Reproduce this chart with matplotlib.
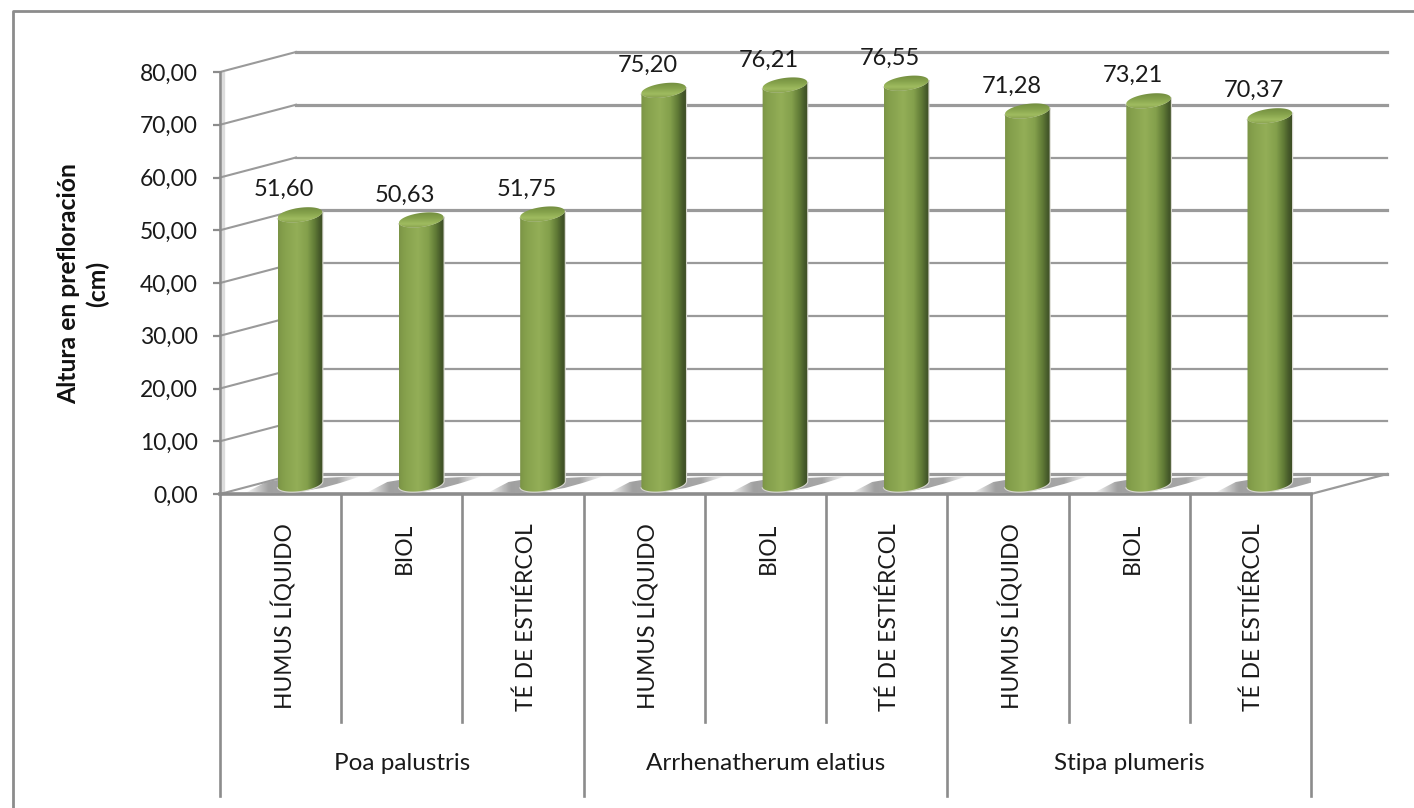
import numpy as np
import matplotlib
matplotlib.use("Agg")
import matplotlib.pyplot as plt
from matplotlib.colors import LinearSegmentedColormap
from matplotlib.patches import PathPatch
from matplotlib.path import Path

# Plant height per species and treatment

species = ["Poa palustris", "Arrhenatherum elatius", "Stipa plumeris"]
treatments = ["HUMUS LÍQUIDO", "BIOL", "TÉ DE ESTIÉRCOL"]
heights = [51.60, 50.63, 51.75, 75.20, 76.21, 76.55, 71.28, 73.21, 70.37]
y_ticks = [0, 10, 20, 30, 40, 50, 60, 70, 80]

W, H = 1414, 808
LEFT, RIGHT, BASE, TOP = 220, 1311, 494, 72

plt.rcParams["font.family"] = ["Lato", "DejaVu Sans"]
fig = plt.figure(figsize=(W / 100, H / 100), dpi=100)
ax = fig.add_axes([LEFT / W, 1 - BASE / H, (RIGHT - LEFT) / W, (BASE - TOP) / H])
ax.set_xlim(0, 9)
ax.set_ylim(0, 80)

# px per data unit, used for the fake 3D offsets
sx = (RIGHT - LEFT) / 9
sy = (BASE - TOP) / 80
depth_x = 76 / sx
depth_y = 20 / sy
grid_col = "#9a9a9a"
line_col = "#8c8c8c"


def to_data(cx, val, px, py):
    # px/py are screen offsets from the point (cx, val), py upwards
    return cx + np.asarray(px) / sx, val + np.asarray(py) / sy


# Outer frame, open towards the right and the bottom
fig.add_artist(plt.Line2D([12.5 / W, 12.5 / W, 1], [0, 1 - 11 / H, 1 - 11 / H],
                          color=line_col, lw=2))

# Walls and floor
for v in y_ticks:
    lw = 2.3 if v in (0, 50, 70, 80) else 1.6
    ax.plot([0, depth_x], [v, v + depth_y], color=grid_col, lw=1.5, clip_on=False, zorder=1)
    ax.plot([depth_x, 9 + depth_x], [v + depth_y, v + depth_y], color=grid_col,
            lw=lw, clip_on=False, zorder=1)
ax.plot([9, 9 + depth_x], [0, depth_y], color=grid_col, lw=1.6, clip_on=False, zorder=1)
ax.plot([3 / sx, 3 / sx], [0, 80], color="#dcdcdc", lw=2.4, zorder=0.5)

# Axis lines below the floor, splitting categories and groups
for i in range(10):
    low = -302 / sy if i % 3 == 0 else -228 / sy
    ax.plot([i, i], [0, low], color=line_col, lw=1.9, clip_on=False, zorder=2)
ax.plot([0, 9], [0, 0], color=line_col, lw=2.6, clip_on=False, zorder=2)

# Floor shadow of each cylinder
shadow_cmap = LinearSegmentedColormap.from_list(
    "shadow", [(0, (0.63, 0.63, 0.63, 0)), (0.2, (0.63, 0.63, 0.63, 1)),
               (0.8, (0.65, 0.65, 0.65, 1)), (1, (0.7, 0.7, 0.7, 0))])
body_cmap = LinearSegmentedColormap.from_list(
    "body", [(0, "#7b9446"), (0.12, "#85a04c"), (0.42, "#93ae57"), (0.65, "#84a04c"),
             (0.82, "#607a36"), (0.93, "#465a2a"), (1, "#3e4e25")])
top_cmap = LinearSegmentedColormap.from_list(
    "top", [(0, "#7b9445"), (0.3, "#a0bc60"), (0.6, "#86a34c"), (1, "#6c863c")])
R = 22.5
RY = 7
TILT = np.radians(8)
BAR_SHIFT = 19.4
FLOOR = 7
FOOT = 10

for i, val in enumerate(heights):
    cx = i + 0.5 + BAR_SHIFT / sx
    base = FOOT / sy

    # shadow
    sh_x, sh_y = to_data(cx, 0, [-56, -34, -22, 22, 62, 40, 22, -10],
                         [0.5, 12, 14, 16, 18, 11, 6, 1])
    shadow = Path(np.column_stack([sh_x, sh_y]))
    im = ax.imshow(np.linspace(0, 1, 64)[None, :], cmap=shadow_cmap, aspect="auto",
                   extent=[cx - 56 / sx, cx + 62 / sx, -2 / sy, 20 / sy], zorder=3,
                   interpolation="bilinear")
    im.set_clip_path(PathPatch(shadow, transform=ax.transData))

    # cylinder side, from the base arc up to the top arc
    t = np.linspace(np.pi, 2 * np.pi, 40)
    ex = R * np.cos(t)
    ey = RY * np.sin(t)
    low_x = ex * np.cos(TILT) - ey * np.sin(TILT)
    low_y = ex * np.sin(TILT) + ey * np.cos(TILT)
    bx, by = to_data(cx, base, low_x, low_y)
    tx, ty = to_data(cx, val + FLOOR / sy, low_x[::-1], low_y[::-1])
    side = Path(np.column_stack([np.r_[bx, tx], np.r_[by, ty]]))
    # thin pale halo around the column
    ax.add_patch(PathPatch(side, fc="none", ec="#d8d8d0", lw=1.6, zorder=3.5, clip_on=False))
    im = ax.imshow(np.linspace(0, 1, 128)[None, :], cmap=body_cmap, aspect="auto",
                   extent=[cx - R / sx, cx + R / sx, 0, 80], zorder=4, interpolation="bilinear")
    im.set_clip_path(PathPatch(side, transform=ax.transData))

    # top cap
    t = np.linspace(0, 2 * np.pi, 80)
    ex = R * np.cos(t)
    ey = RY * np.sin(t)
    cap_x, cap_y = to_data(cx, val + FLOOR / sy, ex * np.cos(TILT) - ey * np.sin(TILT),
                           ex * np.sin(TILT) + ey * np.cos(TILT))
    cap = Path(np.column_stack([cap_x, cap_y]))
    im = ax.imshow(np.linspace(1, 0, 32)[:, None], cmap=top_cmap, aspect="auto",
                   extent=[cx - R / sx, cx + R / sx, val + (FLOOR - 10) / sy, val + (FLOOR + 10) / sy],
                   zorder=5, interpolation="bilinear")
    im.set_clip_path(PathPatch(cap, transform=ax.transData))

    # value label
    ax.text(cx - 16 / sx, val + 32 / sy, f"{val:.2f}".replace(".", ","), ha="center", va="center",
            fontsize=17, color="#1a1a1a", zorder=6, clip_on=False)

ax.set_xlim(0, 9)
ax.set_ylim(0, 80)

# Treatment and species labels below the floor
for i in range(9):
    ax.text(i + 0.5 + 3 / sx, -29 / sy, treatments[i % 3], rotation=90, ha="center", va="top",
            fontsize=16.4, color="#1a1a1a", clip_on=False)
for g, name in enumerate(species):
    ax.text(3 * g + 1.5, -270 / sy, name, ha="center", va="center", fontsize=17.5,
            color="#1a1a1a", clip_on=False)

for side_name in ["top", "right", "bottom"]:
    ax.spines[side_name].set_visible(False)
ax.spines["left"].set_color(line_col)
ax.spines["left"].set_linewidth(1.9)
ax.patch.set_alpha(0)
ax.set_xticks([])
ax.set_yticks(y_ticks)
ax.set_yticklabels([f"{v:.2f}".replace(".", ",") for v in y_ticks], fontsize=16.5, color="#1a1a1a")
ax.tick_params(axis="y", length=5, width=1.6, color=line_col, pad=11)

fig.text(83.5 / W, 1 - 284 / H, "Altura en prefloración\n(cm)", rotation=90, ha="center",
         va="center", ma="center", fontsize=17.8, fontweight="bold", color="#111111", linespacing=1.3)

fig.savefig("out.png", dpi=100)
